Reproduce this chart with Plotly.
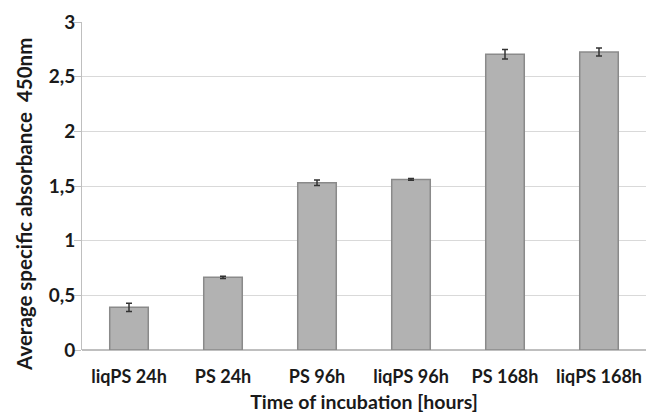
import plotly.graph_objects as go

categories = ["liqPS 24h", "PS 24h", "PS 96h", "liqPS 96h", "PS 168h", "liqPS 168h"]
values = [0.39, 0.665, 1.53, 1.56, 2.705, 2.725]
errors = [0.037, 0.01, 0.025, 0.008, 0.043, 0.037]
y_ticks = [0, 0.5, 1, 1.5, 2, 2.5, 3]
y_tick_labels = ["0", "0,5", "1", "1,5", "2", "2,5", "3"]
y_title = "Average specific absorbance  450nm"
x_title = "Time of incubation [hours]"

font_family = "Lato, Open Sans, sans-serif"

fig = go.Figure(go.Bar(
    x=categories, y=values,
    width=0.41,
    marker=dict(color="#b2b2b2", line=dict(color="#8a8a8a", width=1.5)),
    error_y=dict(type="data", array=errors, visible=True, color="#333333", thickness=1.5, width=3),
))

fig.update_layout(
    width=647, height=417,
    margin=dict(l=82, r=1, t=22, b=67, autoexpand=False),
    paper_bgcolor="white", plot_bgcolor="white",
    showlegend=False,
    font=dict(family=font_family, color="#1a1a1a"),
)
fig.update_xaxes(
    showgrid=False, showline=False, ticks="", automargin=False,
    ticklabelstandoff=14,
    tickfont=dict(size=18, family=font_family, weight="bold"),
    title=dict(text="<b>" + x_title + "</b>", font=dict(size=19.5, family=font_family), standoff=9),
)
fig.update_yaxes(
    range=[0, 3], tickvals=y_ticks, ticktext=y_tick_labels, automargin=False,
    showgrid=True, gridcolor="#d9d9d9", gridwidth=1,
    showline=True, linecolor="#bfbfbf", linewidth=1,
    ticks="outside", ticklen=7, tickcolor="#bfbfbf",
    ticklabelstandoff=-5,
    zeroline=True, zerolinecolor="#bfbfbf",
    tickfont=dict(size=19, family=font_family, weight="bold"),
)
fig.add_annotation(
    text="<b>" + y_title + "</b>", textangle=-90,
    xref="paper", yref="paper", x=-0.103, y=0.445,
    xanchor="center", yanchor="middle", showarrow=False,
    font=dict(size=20.5, family=font_family, color="#1a1a1a"),
)

fig.write_html("out.html", config={"displayModeBar": False},
               post_script="document.body.style.margin='0';document.body.style.overflow='hidden';")
